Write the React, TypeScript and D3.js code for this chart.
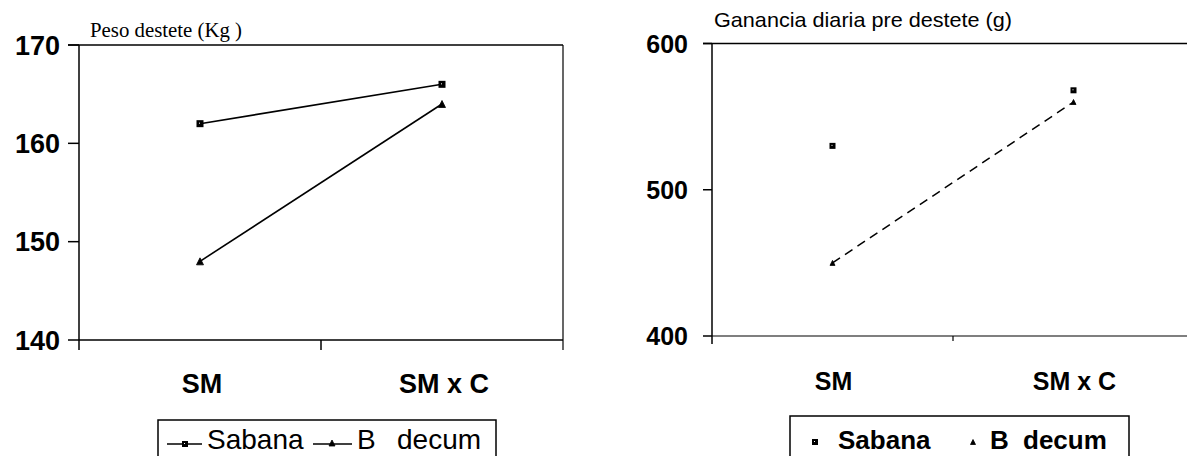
import React from "react";
import * as d3 from "d3";

const categories = ["SM", "SM x C"];
const pesoSabana = [162, 166];
const pesoBDecum = [148, 164];
const pesoTicks = [140, 150, 160, 170];
const gananciaSabana = [530, 568];
const gananciaBDecum = [450, 560];
const gananciaTicks = [400, 500, 600];
const seriesNames = ["Sabana", "B", "decum"];

const SANS = "'Liberation Sans', Arial, sans-serif";
const SERIF = "'Liberation Serif', 'Times New Roman', serif";

function SquareMarker({ x, y, s = 7 }: { x: number; y: number; s?: number }) {
  return (
    <g>
      <rect x={x - s / 2} y={y - s / 2} width={s} height={s} fill="#000" />
      <rect x={x - 1} y={y - 1} width={1} height={1} fill="#fff" />
    </g>
  );
}

function TriMarker({ x, y, s = 7 }: { x: number; y: number; s?: number }) {
  const p = d3.path();
  p.moveTo(x, y - s / 2);
  p.lineTo(x + s / 2, y + s / 2);
  p.lineTo(x - s / 2, y + s / 2);
  p.closePath();
  return <path d={p.toString()} fill="#000" stroke="#000" strokeWidth={0.8} />;
}

function LeftChart() {
  const x0 = 79, x1 = 563, y0 = 45, y1 = 340;
  const x = d3.scalePoint<string>().domain(categories).range([x0, x1]).padding(0.5);
  const y = d3.scaleLinear().domain([140, 170]).range([y1, y0]);
  const line = d3
    .line<number>()
    .x((_, i) => x(categories[i]) as number)
    .y((d) => y(d));
  const mid = (x0 + x1) / 2;
  return (
    <g>
      <text x={90} y={37} fontFamily={SERIF} fontSize={20} textLength={152} lengthAdjust="spacingAndGlyphs">
        Peso destete (Kg )
      </text>
      <line x1={68} x2={x1} y1={y0} y2={y0} stroke="#000" strokeWidth={1.5} />
      <line x1={x0} x2={x0} y1={y0} y2={y1 + 10} stroke="#000" strokeWidth={1.5} />
      <line x1={x1} x2={x1} y1={y0} y2={y1 + 10} stroke="#000" strokeWidth={1.2} />
      <line x1={x0} x2={x1} y1={y1} y2={y1} stroke="#000" strokeWidth={1.5} />
      <line x1={mid} x2={mid} y1={y1} y2={y1 + 10} stroke="#000" strokeWidth={1.5} />
      {pesoTicks.map((t) => (
        <g key={t}>
          <line x1={68} x2={x0} y1={y(t)} y2={y(t)} stroke="#000" strokeWidth={1.5} />
          <text x={60} y={y(t)} dy="0.36em" textAnchor="end" fontFamily={SANS} fontWeight="bold" fontSize={27}>
            {t}
          </text>
        </g>
      ))}
      {categories.map((c) => (
        <text key={c} x={(x(c) as number) + 2} y={393} textAnchor="middle" fontFamily={SANS} fontWeight="bold" fontSize={27}>
          {c}
        </text>
      ))}
      <path d={line(pesoSabana) as string} fill="none" stroke="#000" strokeWidth={1.6} />
      <path d={line(pesoBDecum) as string} fill="none" stroke="#000" strokeWidth={1.6} />
      {pesoSabana.map((v, i) => (
        <SquareMarker key={"s" + i} x={x(categories[i]) as number} y={y(v)} />
      ))}
      {pesoBDecum.map((v, i) => (
        <TriMarker key={"b" + i} x={x(categories[i]) as number} y={y(v)} />
      ))}
      <rect x={158} y={420} width={338} height={60} fill="none" stroke="#000" strokeWidth={1.5} />
      <line x1={167} x2={202} y1={444} y2={444} stroke="#000" strokeWidth={1.5} />
      <SquareMarker x={185} y={444} s={6} />
      <text x={207} y={449} fontFamily={SANS} fontSize={28}>{seriesNames[0]}</text>
      <line x1={313} x2={352} y1={444} y2={444} stroke="#000" strokeWidth={1.5} />
      <TriMarker x={332} y={443} s={6} />
      <text y={449} fontFamily={SANS} fontSize={28}>
        <tspan x={357}>{seriesNames[1]}</tspan>
        <tspan x={397}>{seriesNames[2]}</tspan>
      </text>
    </g>
  );
}

function RightChart() {
  const x0 = 712, x1 = 1194, y0 = 43.5, y1 = 336;
  const x = d3.scalePoint<string>().domain(categories).range([x0, x1]).padding(0.5);
  const y = d3.scaleLinear().domain([400, 600]).range([y1, y0]);
  const line = d3
    .line<number>()
    .x((_, i) => x(categories[i]) as number)
    .y((d) => y(d));
  const mid = (x0 + x1) / 2;
  return (
    <g>
      <text x={714} y={27} fontFamily={SANS} fontSize={21} textLength={298} lengthAdjust="spacingAndGlyphs">
        Ganancia diaria pre destete (g)
      </text>
      <line x1={703} x2={x1} y1={y0} y2={y0} stroke="#000" strokeWidth={1.5} />
      <line x1={x0} x2={x0} y1={y0} y2={y1 + 8} stroke="#000" strokeWidth={1.5} />
      <line x1={x0} x2={x1} y1={y1} y2={y1} stroke="#000" strokeWidth={1.2} />
      <line x1={mid} x2={mid} y1={y1} y2={y1 + 5} stroke="#000" strokeWidth={1.2} />
      {gananciaTicks.map((t) => (
        <g key={t}>
          <line x1={703} x2={x0} y1={y(t)} y2={y(t)} stroke="#000" strokeWidth={1.5} />
          <text x={688} y={y(t)} dy="0.36em" textAnchor="end" fontFamily={SANS} fontWeight="bold" fontSize={25}>
            {t}
          </text>
        </g>
      ))}
      {categories.map((c) => (
        <text key={c} x={(x(c) as number) + 1} y={390} textAnchor="middle" fontFamily={SANS} fontWeight="bold" fontSize={25}>
          {c}
        </text>
      ))}
      <path d={line(gananciaBDecum) as string} fill="none" stroke="#000" strokeWidth={1.5} strokeDasharray="9,6" />
      {gananciaSabana.map((v, i) => (
        <SquareMarker key={"s" + i} x={x(categories[i]) as number} y={y(v)} s={6} />
      ))}
      {gananciaBDecum.map((v, i) => (
        <TriMarker key={"b" + i} x={x(categories[i]) as number} y={y(v)} s={5} />
      ))}
      <rect x={790} y={416} width={339} height={60} fill="none" stroke="#000" strokeWidth={1.5} />
      <SquareMarker x={815} y={442} s={6} />
      <text x={838} y={449} fontFamily={SANS} fontWeight="bold" fontSize={26}>{seriesNames[0]}</text>
      <TriMarker x={973} y={442} s={5} />
      <text y={449} fontFamily={SANS} fontWeight="bold" fontSize={26}>
        <tspan x={990}>{seriesNames[1]}</tspan>
        <tspan x={1023}>{seriesNames[2]}</tspan>
      </text>
    </g>
  );
}

export default function App() {
  return (
    <svg
      width={1187}
      height={456}
      viewBox="0 0 1187 456"
      style={{ position: "absolute", left: 0, top: 0, background: "#fff" }}
    >
      <rect width={1187} height={456} fill="#fff" />
      <LeftChart />
      <RightChart />
    </svg>
  );
}
